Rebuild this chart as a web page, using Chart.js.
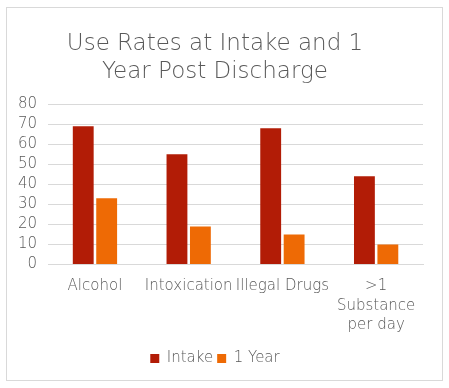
<!DOCTYPE html>
<html><head><meta charset="utf-8">
<script src="https://cdn.jsdelivr.net/npm/chart.js@4"></script>
<style>
html,body{margin:0;padding:0;background:#fff;}
#frame{position:absolute;left:6px;top:7px;width:435px;height:372px;border:1px solid #d9d9d9;background:#fff;}
#wrap{position:absolute;left:0;top:0;width:435px;height:372px;}
</style></head><body>
<div id="frame"><div id="wrap"><canvas id="c"></canvas></div></div>
<script>
const categories = ["Alcohol", "Intoxication", "Illegal Drugs", [">1", "Substance", "per day"]];
const intake = [69, 55, 68, 44];
const oneYear = [33, 19, 15, 10];
const seriesNames = ["Intake", "1 Year"];
const titleLines = ["Use Rates at Intake and 1", "Year Post Discharge"];

const FONT = "'DejaVu Sans', sans-serif";
const GREY = "#595959";
new Chart(document.getElementById('c'), {
  type: 'bar',
  data: {
    labels: categories,
    datasets: [
      {label: seriesNames[0], data: intake, backgroundColor: '#B21C06', categoryPercentage: 0.5, barPercentage: 0.89},
      {label: seriesNames[1], data: oneYear, backgroundColor: '#EE6A05', categoryPercentage: 0.5, barPercentage: 0.89}
    ]
  },
  options: {
    responsive: true, maintainAspectRatio: false, animation: false,
    layout: {padding: {left: 0, right: 19, top: 10, bottom: 4}},
    plugins: {
      title: {display: true, text: titleLines, color: GREY, font: {family: FONT, size: 23, weight: '200', lineHeight: 1.22}, padding: {top: 12, bottom: 18}},
      legend: {position: 'bottom', labels: {color: GREY, font: {family: FONT, size: 15, weight: '200'}, boxWidth: 9, boxHeight: 9, padding: 4}},
      tooltip: {enabled: false}
    },
    scales: {
      x: {grid: {display: false, drawTicks: false}, border: {color: '#d9d9d9'},
          ticks: {color: GREY, font: {family: FONT, size: 15, weight: '200', lineHeight: 1.3}, padding: 12, maxRotation: 0, autoSkip: false}},
      y: {min: 0, max: 80, grid: {color: '#d9d9d9', drawTicks: false}, border: {display: false},
          ticks: {stepSize: 10, autoSkip: false, color: GREY, font: {family: FONT, size: 15, weight: '200'}, padding: 11}}
    }
  }
});
</script>
</body></html>
